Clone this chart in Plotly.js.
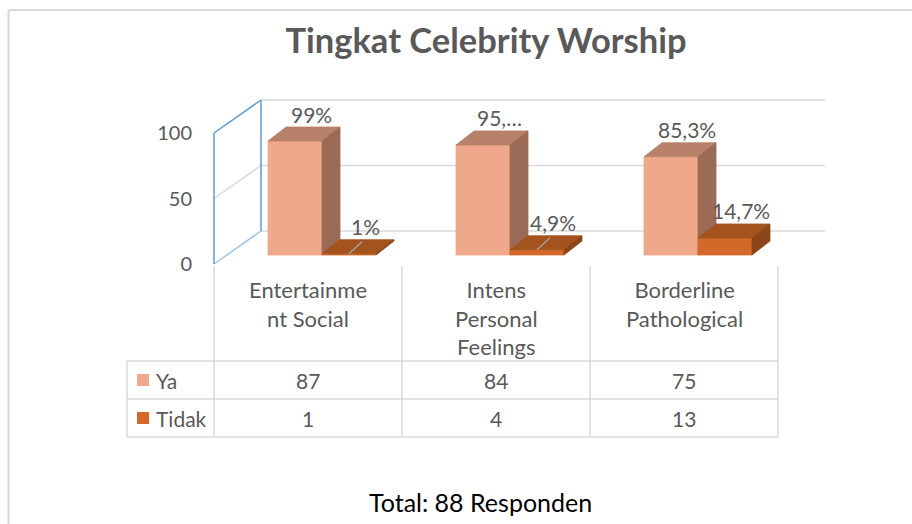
<!DOCTYPE html>
<html>
<head>
<meta charset="utf-8">
<script src="https://cdn.plot.ly/plotly-3.0.1.min.js"></script>
<style>
  html, body { margin: 0; padding: 0; background: #ffffff; }
  #chart { width: 912px; height: 524px; }
</style>
</head>
<body>
<div id="chart"></div>
<script>
// ---------------- data ----------------
const chartTitle = 'Tingkat Celebrity Worship';
const footNote = 'Total: 88 Responden';
const categoryLabels = ['Entertainme<br>nt Social', 'Intens<br>Personal<br>Feelings', 'Borderline<br>Pathological'];
const seriesNames = ['Ya', 'Tidak'];
const yaValues = [87, 84, 75];
const tidakValues = [1, 4, 13];
const yaLabels = ['99%', '95,…', '85,3%'];
const tidakLabels = ['1%', '4,9%', '14,7%'];
const tidakLeader = [true, true, false];
const yTicks = [0, 50, 100];

// ---------------- geometry / style ----------------
const W = 912, H = 524;
const CAT_PX = 188, VAL_PX = 1.31;      // pixels per category, pixels per unit
const X0_PX = 214, Y0_PX = 264;          // front-floor origin in pixels
const px2x = p => p / CAT_PX;
const px2y = p => p / VAL_PX;
const xRange = [-X0_PX / CAT_PX, (W - X0_PX) / CAT_PX];
const yRange = [-(H - Y0_PX) / VAL_PX, Y0_PX / VAL_PX];
const wallDx = px2x(47), wallDy = px2y(33);
const barGap = px2x(42), barW = px2x(54);
const frontDx = px2x(12), frontDy = px2y(9);
const depthDx = px2x(18), depthDy = px2y(14);
const FONT = 'Lato, "Open Sans", sans-serif';
const TXT = '#595959';
const GRID = '#d9d9d9';
const BLUE = '#5b9bd5';
const colors = {
  Ya:    { front: '#f0a88a', top: '#b8826a', side: '#9a6a57' },
  Tidak: { front: '#d2692a', top: '#a4531e', side: '#8a4618' }
};
const py = p => 1 - p / H;   // pixel row -> paper y
const pxp = p => p / W;      // pixel col -> paper x

// ---------------- traces ----------------
const traces = [];
function lineTrace(xs, ys, color, width) {
  traces.push({ type: 'scatter', mode: 'lines', x: xs, y: ys,
    line: { color: color, width: width }, hoverinfo: 'skip', showlegend: false });
}
// back wall gridlines
yTicks.forEach(t => lineTrace([wallDx, categoryLabels.length + wallDx], [t + wallDy, t + wallDy], GRID, 1.5));
// side wall
lineTrace([0, wallDx], [50, 50 + wallDy], GRID, 1.5);
lineTrace([0, wallDx], [0, wallDy], '#9dc3e6', 1.5);
lineTrace([0, wallDx], [100, 100 + wallDy], BLUE, 1.5);
lineTrace([0, 0], [0, 100], BLUE, 1.5);
lineTrace([wallDx, wallDx], [wallDy, 100 + wallDy], BLUE, 1.5);

function prism(values, sIdx, col) {
  const f = { x: [], y: [] }, t = { x: [], y: [] }, s = { x: [], y: [] };
  const add = (o, xs, ys) => { o.x.push(...xs, null); o.y.push(...ys, null); };
  values.forEach((v, i) => {
    const xl = i + barGap + sIdx * barW + frontDx, xr = xl + barW;
    const b = frontDy, tp = frontDy + v;
    add(f, [xl, xr, xr, xl, xl], [b, b, tp, tp, b]);
    add(t, [xl, xr, xr + depthDx, xl + depthDx, xl], [tp, tp, tp + depthDy, tp + depthDy, tp]);
    add(s, [xr, xr + depthDx, xr + depthDx, xr, xr], [b, b + depthDy, tp + depthDy, tp, b]);
  });
  [[f, col.front], [t, col.top], [s, col.side]].forEach(([o, c]) => {
    traces.push({ type: 'scatter', mode: 'lines', x: o.x, y: o.y, fill: 'toself',
      fillcolor: c, line: { color: c, width: 0.8 }, hoverinfo: 'skip', showlegend: false });
  });
}
prism(yaValues, 0, colors.Ya);
prism(tidakValues, 1, colors.Tidak);

// leader lines of moved labels (Tidak series)
const leader = { x: [], y: [] };
tidakValues.forEach((v, i) => {
  if (!tidakLeader[i]) return;
  const xl = i + barGap + barW + frontDx;
  const tp = frontDy + v;
  leader.x.push(xl + px2x(27), xl + px2x(40), null);
  leader.y.push(tp, tp + px2y(12), null);
});
traces.push({ type: 'scatter', mode: 'lines', x: leader.x, y: leader.y,
  line: { color: '#a6a6a6', width: 1.2 }, hoverinfo: 'skip', showlegend: false });

// ---------------- annotations ----------------
const annotations = [];
function dataLabels(values, labels, sIdx) {
  values.forEach((v, i) => {
    const xc = i + barGap + sIdx * barW + frontDx + barW / 2 + px2x(16);
    annotations.push({ x: xc, y: frontDy + v, xref: 'x', yref: 'y', text: labels[i],
      showarrow: false, yanchor: 'middle', xanchor: 'center', yshift: 27,
      font: { family: FONT, size: 21, color: TXT } });
  });
}
dataLabels(yaValues, yaLabels, 0);
dataLabels(tidakValues, tidakLabels, 1);

// table
const ROW_TOP = 266, ROW1 = 361, ROW2 = 399, ROW3 = 437, TBL_LEFT = 127;
categoryLabels.forEach((c, i) => {
  annotations.push({ x: i + 0.5, y: py(274), xref: 'x', yref: 'paper', text: c,
    showarrow: false, yanchor: 'top', xanchor: 'center', align: 'center',
    font: { family: FONT, size: 22, color: TXT } });
});
[yaValues, tidakValues].forEach((vals, r) => {
  const yc = py(r === 0 ? (ROW1 + ROW2) / 2 : (ROW2 + ROW3) / 2);
  vals.forEach((v, i) => {
    annotations.push({ x: i + 0.5, y: yc, xref: 'x', yref: 'paper', text: String(v),
      showarrow: false, yanchor: 'middle', xanchor: 'center',
      font: { family: FONT, size: 21, color: TXT } });
  });
  annotations.push({ x: pxp(154), y: yc, xref: 'paper', yref: 'paper', text: seriesNames[r],
    showarrow: false, yanchor: 'middle', xanchor: 'left',
    font: { family: FONT, size: 21, color: TXT } });
});
annotations.push({ x: pxp(480), y: py(502), xref: 'paper', yref: 'paper', text: footNote,
  showarrow: false, yanchor: 'middle', xanchor: 'center',
  font: { family: FONT, size: 25, color: '#000000' } });

// shapes
const shapes = [];
const gl = (x0, y0, x1, y1, xref, color, w) => shapes.push({ type: 'line', xref: xref, yref: 'paper',
  x0: x0, y0: y0, x1: x1, y1: y1, line: { color: color, width: w }, layer: 'below' });
for (let i = 0; i <= categoryLabels.length; i++) gl(i, py(ROW_TOP), i, py(ROW3), 'x', GRID, 1.5);
gl(pxp(TBL_LEFT), py(ROW1), pxp(TBL_LEFT), py(ROW3), 'paper', GRID, 1.5);
[ROW1, ROW2, ROW3].forEach(r => shapes.push({ type: 'line', xref: 'paper', yref: 'paper',
  x0: pxp(TBL_LEFT), x1: pxp(X0_PX + CAT_PX * categoryLabels.length), y0: py(r), y1: py(r),
  line: { color: GRID, width: 1.5 }, layer: 'below' }));
// legend keys
[colors.Ya.front, colors.Tidak.front].forEach((c, r) => {
  const yc = r === 0 ? (ROW1 + ROW2) / 2 : (ROW2 + ROW3) / 2;
  shapes.push({ type: 'rect', xref: 'paper', yref: 'paper', x0: pxp(137), x1: pxp(149),
    y0: py(yc + 6), y1: py(yc - 6), fillcolor: c, line: { width: 0 } });
});
// chart border
shapes.push({ type: 'line', xref: 'paper', yref: 'paper', x0: pxp(8.5), x1: pxp(8.5), y0: 0, y1: py(10),
  line: { color: GRID, width: 2 } });
shapes.push({ type: 'line', xref: 'paper', yref: 'paper', x0: pxp(8.5), x1: 1, y0: py(10), y1: py(10),
  line: { color: GRID, width: 2 } });

const layout = {
  width: W, height: H, autosize: false,
  margin: { l: 0, r: 0, t: 0, b: 0 },
  paper_bgcolor: '#ffffff', plot_bgcolor: '#ffffff',
  title: { text: '<b>' + chartTitle + '</b>', x: pxp(486), y: py(41), xanchor: 'center', yanchor: 'middle',
    xref: 'paper', yref: 'paper', font: { family: FONT, size: 34.5, color: TXT } },
  xaxis: { range: xRange, visible: false, fixedrange: true },
  yaxis: { range: yRange, anchor: 'free', position: pxp(X0_PX), side: 'left',
    tickvals: yTicks, ticktext: yTicks.map(String), ticks: '', showgrid: false, zeroline: false,
    showline: false, ticklabelstandoff: 22, tickfont: { family: FONT, size: 20, color: TXT }, fixedrange: true },
  showlegend: false,
  annotations: annotations,
  shapes: shapes
};

Plotly.newPlot('chart', traces, layout, { staticPlot: true, displayModeBar: false });
</script>
</body>
</html>
